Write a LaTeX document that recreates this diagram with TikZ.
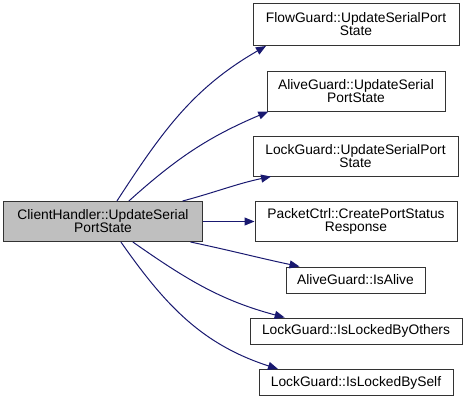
\documentclass[tikz,border=0pt]{standalone}
\usepackage{fontspec}
\setmainfont{Liberation Sans}
\usetikzlibrary{arrows.meta,calc}
\definecolor{edgeblue}{RGB}{25,25,112}
\definecolor{maingray}{RGB}{191,191,191}
\tikzset{
  fbox/.style={draw=black!80, line width=1bp, fill=white, align=center, inner sep=0pt,
    font=\fontsize{13.8bp}{13bp}\selectfont},
  mainbox/.style={fbox, fill=maingray},
  edge/.style={draw=edgeblue, line width=1bp, -{Triangle[length=10bp,width=8bp]}}
}
\begin{document}
\begin{tikzpicture}[x=1bp,y=-1bp]
\useasboundingbox (0,0) rectangle (468,401);
\node[mainbox, minimum width=198bp, minimum height=40bp] (main) at (103,221.5) {ClientHandler::UpdateSerial\\PortState};
\node[fbox, minimum width=206bp, minimum height=42bp] (fg) at (356,24.5) {FlowGuard::UpdateSerialPort\\State};
\node[fbox, minimum width=178bp, minimum height=40bp] (ag) at (356,91) {AliveGuard::UpdateSerial\\PortState};
\node[fbox, minimum width=205bp, minimum height=40bp] (lg) at (355.5,156) {LockGuard::UpdateSerialPort\\State};
\node[fbox, minimum width=202bp, minimum height=40bp] (pc) at (356,221.5) {PacketCtrl::CreatePortStatus\\Response};
\node[fbox, minimum width=139bp, minimum height=26bp] (ia) at (355.5,280) {AliveGuard::IsAlive};
\node[fbox, minimum width=212bp, minimum height=26bp] (ilo) at (356,331) {LockGuard::IsLockedByOthers};
\node[fbox, minimum width=194bp, minimum height=26bp] (ils) at (356,382.5) {LockGuard::IsLockedBySelf};

\draw[edge] ($(main.north west)!0.57!(main.north east)$) to[out=57,in=210] ($(fg.south west)!0.065!(fg.south east)$);
\draw[edge] ($(main.north west)!0.63!(main.north east)$) to[out=42,in=203] ($(ag.south west)!0.01!(ag.south east)$);
\draw[edge] ($(main.north west)!0.90!(main.north east)$) to[out=15,in=192] ($(lg.south west)!0.09!(lg.south east)$);
\draw[edge] (main.east) -- (pc.west);
\draw[edge] ($(main.south west)!0.94!(main.south east)$) to[out=-12,in=168] ($(ia.north west)!0.10!(ia.north east)$);
\draw[edge] ($(main.south west)!0.65!(main.south east)$) to[out=-35,in=165] ($(ilo.north west)!0.165!(ilo.north east)$);
\draw[edge] ($(main.south west)!0.59!(main.south east)$) to[out=-55,in=162] ($(ils.north west)!0.10!(ils.north east)$);
\end{tikzpicture}
\end{document}
